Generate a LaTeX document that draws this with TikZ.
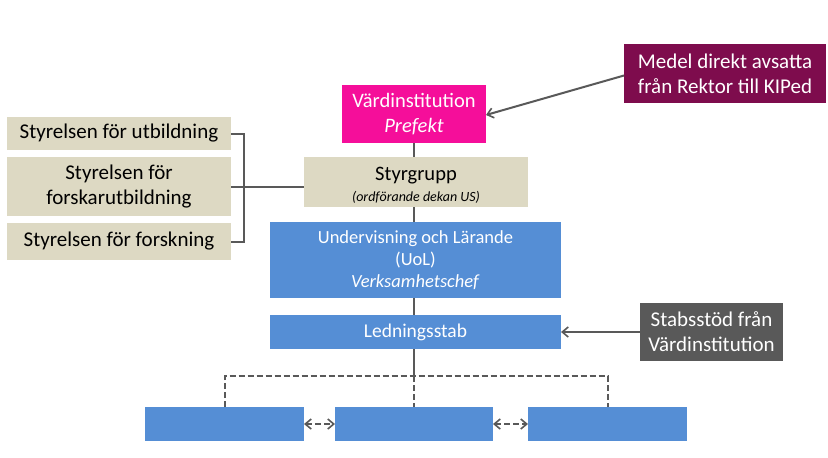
\documentclass[tikz,border=0pt]{standalone}
\usepackage{fontspec}
\setmainfont{Carlito}
\usetikzlibrary{arrows.meta}
\definecolor{mag}{HTML}{F50E9A}
\definecolor{beige}{HTML}{DDD9C3}
\definecolor{blu}{HTML}{558ED5}
\definecolor{maroon}{HTML}{7E0C4D}
\definecolor{dgray}{HTML}{595959}
\definecolor{lgray}{HTML}{595959}
\tikzset{
  box/.style={rectangle, inner sep=0pt, outer sep=0pt, align=center},
  conn/.style={draw=lgray, line width=2pt},
  dconn/.style={draw=lgray, line width=2pt, dash pattern=on 6pt off 3pt},
  tip/.style={-{Straight Barb[length=6pt,width=10pt,line width=1.6pt]}},
  dtip/.style={{Straight Barb[length=6pt,width=10pt,line width=1.6pt]}-{Straight Barb[length=6pt,width=10pt,line width=1.6pt]}},
  big/.style={font=\fontsize{21}{25}\selectfont},
}
\begin{document}
\begin{tikzpicture}[x=1pt,y=-1pt]
\useasboundingbox (0,0) rectangle (828,458);
\fill[white] (0,0) rectangle (828,458);
% main column
\node[box, fill=mag, minimum width=144pt, minimum height=58pt, text=white, font=\fontsize{20.5}{25}\selectfont] (vard) at (414,114) {Värdinstitution\\\textit{Prefekt}};
\node[box, fill=beige, minimum width=224pt, minimum height=50pt] (styr) at (416,182) {};
\node[inner sep=0pt, anchor=base, font=\fontsize{20.5}{22}\selectfont] (styrt) at (416,180) {Styrgrupp};
\node[inner sep=0pt, anchor=base, font=\fontsize{14}{16}\selectfont\itshape] (styrs) at (416,201) {(ordförande dekan US)};
\node[box, fill=blu, minimum width=291pt, minimum height=76pt, text=white, font=\fontsize{18.5}{22}\selectfont] (uol) at (415.5,260) {Undervisning och Lärande\\(UoL)\\\textit{Verksamhetschef}};
\node[box, fill=blu, minimum width=291pt, minimum height=34pt, text=white, font=\fontsize{19.5}{22}\selectfont] (led) at (415.5,332) {Ledningsstab};
% left boards
\node[box, fill=beige, minimum width=224pt, minimum height=33pt, big] (s1) at (119,133.5) {Styrelsen för utbildning};
\node[box, fill=beige, minimum width=224pt, minimum height=59pt, big] (s2) at (119,186.5) {Styrelsen för\\forskarutbildning};
\node[box, fill=beige, minimum width=224pt, minimum height=37pt, big] (s3) at (119,241.5) {Styrelsen för forskning};
% right side notes
\node[box, fill=maroon, minimum width=202pt, minimum height=59pt, text=white, big] (medel) at (725,73.5) {Medel direkt avsatta\\från Rektor till KIPed};
\node[box, fill=dgray, minimum width=143pt, minimum height=58pt, text=white, big] (stab) at (711.5,332) {Stabsstöd från\\Värdinstitution};
% bottom boxes
\node[box, fill=blu, minimum width=159pt, minimum height=34pt] (b1) at (224.5,424) {};
\node[box, fill=blu, minimum width=158pt, minimum height=34pt] (b2) at (414,424) {};
\node[box, fill=blu, minimum width=159pt, minimum height=34pt] (b3) at (607.5,424) {};
% connectors
\draw[conn] (vard.south) -- (vard.south |- styr.north);
\draw[conn] (styr.south -| vard.south) -- (uol.north -| vard.south);
\draw[conn] (uol.south -| vard.south) -- (led.north -| vard.south);
\coordinate (br) at (244,186.5);
\coordinate (hub) at (414,376);
\draw[conn] (s1.east) -- (s1.east -| br) -- (s3.east -| br) -- (s3.east);
\draw[conn] (s2.east) -- (styr.west |- s2.east);
\draw[conn, tip] (medel.west) ++(0,2) -- ([yshift=-1pt]vard.east);
\draw[conn, tip] (stab.west |- led.east) -- (led.east);
\draw[conn] (led.south -| hub) -- (hub);
\draw[dconn] (b1.north) -- (b1.north |- hub) -- (b3.north |- hub) -- (b3.north);
\draw[dconn] (hub) -- (b2.north);
\draw[dconn, dtip] (b1.east) -- (b2.west);
\draw[dconn, dtip] (b2.east) -- (b3.west);
\end{tikzpicture}
\end{document}
